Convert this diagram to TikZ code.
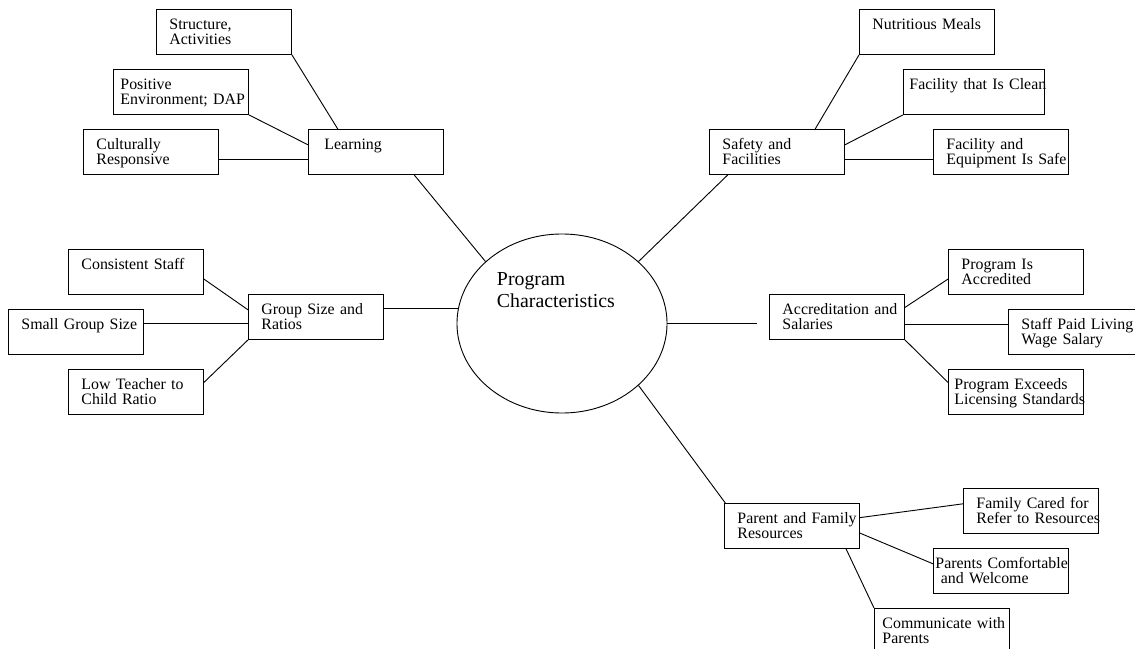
\documentclass[tikz,border=0pt]{standalone}
\usepackage{fontspec}
\setmainfont{Liberation Serif}
\usetikzlibrary{shapes.geometric}

\begin{document}
\begin{tikzpicture}[x=0.025cm, y=-0.025cm, line width=0.65pt,
  box/.style={draw, anchor=north west, inner sep=0pt, text width=3.375cm, align=left,
    text height=14pt, text depth=18pt,
    font={\fontsize{11.3}{11.2}\selectfont\hyphenpenalty=10000\relax},
    execute at begin node={\leftskip=0.325cm}},
  hub/.style={draw, ellipse, inner sep=0pt, minimum width=5.25cm, minimum height=4.475cm,
    text width=3.25cm, align=left, text height=12pt, text depth=66pt,
    font=\fontsize{14.1}{15.4}\selectfont}]
\useasboundingbox (0,0) rectangle (1135,649);

\node[hub] (prog) at (562,323.5) {Program\\Characteristics};

\node[box] (struct) at (156,9) {Structure,\\Activities};
\node[box, execute at begin node={\leftskip=0.175cm}] (posenv) at (113,69) {Positive\\Environment;~DAP};
\node[box] (cultural) at (83,129) {Culturally\\Responsive};
\node[box, execute at begin node={\leftskip=0.4cm}] (learn) at (308,129) {Learning};

\node[box] (consist) at (68,249) {Consistent Staff};
\node[box] (small) at (8,309) {Small Group Size};
\node[box] (lowratio) at (68,369) {Low Teacher to\\Child Ratio};
\node[box] (group) at (248,294) {Group Size and\\Ratios};

\node[box] (meals) at (859,9) {Nutritious Meals};
\node[box, text width=3.525cm, execute at begin node={\leftskip=0.15cm}] (clean) at (903,69) {Facility~that~Is~Clean};
\node[box] (safeequip) at (933,129) {Facility and\\Equipment~Is~Safe};
\node[box] (safety) at (709,129) {Safety and\\Facilities};

\node[box] (accred) at (769,294) {Accreditation~and\\Salaries};
\node[box] (accredited) at (948,249) {Program Is\\Accredited};
\node[box] (wage) at (1008,309) {Staff Paid Living\\Wage Salary};
\node[box, execute at begin node={\leftskip=0.15cm}] (exceeds) at (948,369) {Program Exceeds\\Licensing~Standards};

\node[box] (parent) at (724,503) {Parent~and~Family\\Resources};
\node[box] (cared) at (963,488) {Family Cared for\\Refer~to~Resources};
\node[box, execute at begin node={\leftskip=0.05cm}] (comfort) at (933,548) {Parents~Comfortable\\\ and Welcome};
\node[box, execute at begin node={\leftskip=0.2cm}] (commun) at (874,608) {Communicate~with\\Parents};

\draw (struct.south east) -- (learn.149);
\draw (posenv.south east) -- (learn.174);
\draw (cultural.-6) -- (learn.186);
\draw (learn.-31) -- (prog.141);

\draw (consist.-6) -- (group.174);
\draw (small.7) -- (small.7 -| group.west);
\draw (lowratio.8) -- (group.south west);
\draw (prog.172 -| group.east) -- (prog.172);

\draw (prog.39) -- (safety.205);
\draw (safety.31) -- (meals.south west);
\draw (safety.6) -- (clean.south west);
\draw (safety.-6) -- (safeequip.186);

\draw[shorten >=0.3cm] (prog.east) -- (prog.east -| accred.west);
\draw (accred.8) -- (accredited.186);
\draw (accred.-6) -- (accred.-6 -| wage.west);
\draw (accred.south east) -- (exceeds.172);

\draw (prog.-39) -- (parent.161);
\draw (parent.7) -- (cared.174);
\draw (parent.-6) -- (comfort.174);
\draw (parent.-23) -- (commun.north west);

\end{tikzpicture}
\end{document}
